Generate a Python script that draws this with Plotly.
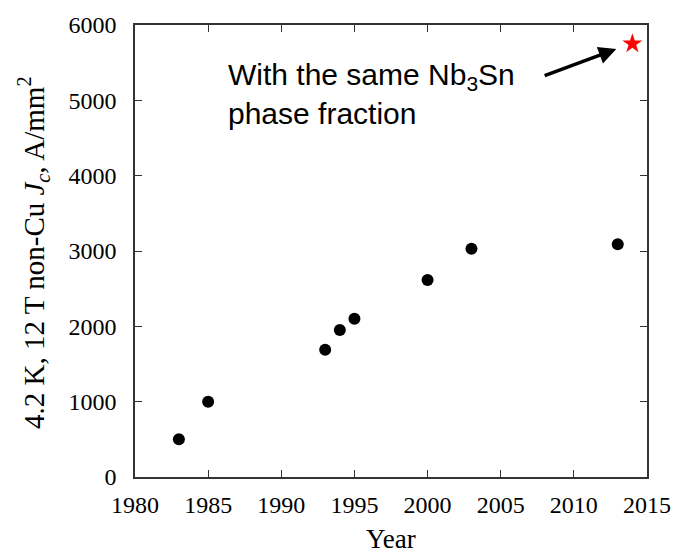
import plotly.graph_objects as go

years = [1983, 1985, 1993, 1994, 1995, 2000, 2003, 2013]
jc = [500, 1000, 1690, 1950, 2100, 2615, 3030, 3090]
star_year = [2014]
star_jc = [5750]
x_ticks = [1980, 1985, 1990, 1995, 2000, 2005, 2010, 2015]
y_ticks = [0, 1000, 2000, 3000, 4000, 5000, 6000]

serif = "Liberation Serif, Times New Roman, serif"
sans = "Liberation Sans, Arial, sans-serif"

fig = go.Figure()
fig.add_trace(go.Scatter(x=years, y=jc, mode="markers",
                         marker=dict(color="black", size=12, symbol="circle"),
                         showlegend=False))
fig.add_trace(go.Scatter(x=star_year, y=star_jc, mode="markers",
                         marker=dict(color="red", size=15, symbol="star"),
                         showlegend=False))

axis_common = dict(showline=True, linecolor="#333333", linewidth=1.5, mirror="ticks",
                   ticks="inside", ticklen=7, tickwidth=1.2, tickcolor="#333333",
                   showgrid=False, zeroline=False,
                   tickfont=dict(family=serif, size=24, color="black"))

fig.update_xaxes(range=[1980, 2015], tickvals=x_ticks, ticklabelstandoff=5, **axis_common)
fig.update_yaxes(range=[0, 6000], tickvals=y_ticks, ticklabelstandoff=12, **axis_common)

fig.add_annotation(text="Year", xref="paper", yref="paper", x=0.5, y=-0.137,
                   xanchor="center", yanchor="middle", showarrow=False,
                   font=dict(family=serif, size=27, color="black"))
fig.add_annotation(text="4.2 K, 12 T non-Cu <i>J<sub>c</sub></i>, A/mm<sup>2</sup>",
                   xref="paper", yref="paper", x=-0.198, y=0.495, textangle=-90,
                   xanchor="center", yanchor="middle", showarrow=False,
                   font=dict(family=serif, size=29, color="black"))

fig.add_annotation(text="With the same Nb<sub>3</sub>Sn<br>phase fraction",
                   x=1986.2, y=5080, xref="x", yref="y", xanchor="left", yanchor="middle",
                   align="left", showarrow=False,
                   font=dict(family=sans, size=30, color="black"))
fig.add_annotation(x=2012.9, y=5680, ax=2007.9, ay=5320, xref="x", yref="y",
                   axref="x", ayref="y", text="", showarrow=True,
                   arrowhead=2, arrowsize=1, arrowwidth=3.5, arrowcolor="black")

fig.update_layout(width=683, height=553,
                  margin=dict(l=135, r=24, t=18, b=76),
                  paper_bgcolor="white", plot_bgcolor="white")

fig.write_html("out.html")
